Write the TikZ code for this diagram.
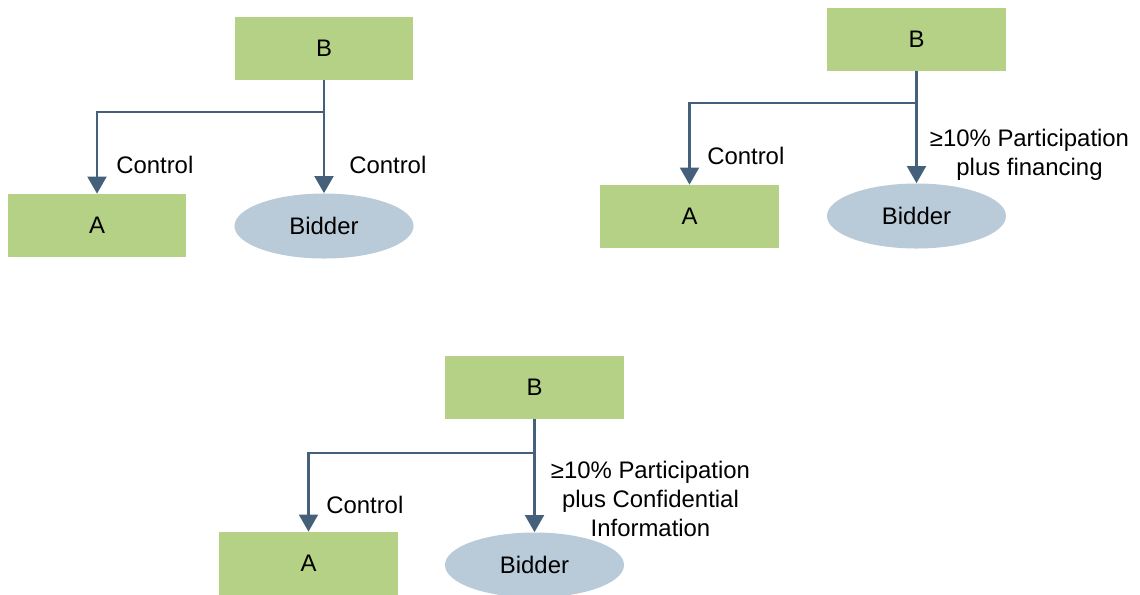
\documentclass[tikz,border=0pt]{standalone}
\usepackage{fontspec}
\setmainfont{Liberation Sans}
\usetikzlibrary{arrows.meta,shapes.geometric}

\definecolor{boxgreen}{HTML}{B5D186}
\definecolor{bidblue}{HTML}{B9CAD8}
\definecolor{linkblue}{HTML}{44607A}

\tikzset{
    firm/.style={fill=boxgreen, minimum width=4.45cm, minimum height=1.575cm, inner sep=0pt},
    bidder/.style={ellipse, fill=bidblue, minimum width=4.475cm, minimum height=1.625cm, inner sep=0pt},
    link/.style={draw=linkblue, line width=2.1pt},
    lbl/.style={inner sep=0pt, align=center}
}

\begin{document}
\begin{tikzpicture}[x=0.025cm, y=-0.025cm, >={Triangle[width=0.47cm,length=0.43cm]},
        every node/.style={font=\fontsize{17}{20.6}\selectfont}]
    \useasboundingbox (0,0) rectangle (1140,594);

    % Nodes
    \node[firm] at (324, 48.5) (b1) {B};
    \node[firm] at (97, 225.5) (a1) {A};
    \node[bidder] at (324, 226) (d1) {Bidder};
    \coordinate (j1) at (324, 112);

    \node[firm] at (916.5, 39.5) (b2) {B};
    \node[firm] at (689.5, 216.5) (a2) {A};
    \node[bidder] at (916.5, 216) (d2) {Bidder};
    \coordinate (j2) at (916.5, 103);

    \node[firm] at (534.5, 387.5) (b3) {B};
    \node[firm] at (308.5, 563.5) (a3) {A};
    \node[bidder] at (534.5, 565) (d3) {Bidder};
    \coordinate (j3) at (534.5, 453);

    % Edges
    \draw[link] (b1) -- (j1);
    \draw[link, ->] (j1) -| (a1);
    \draw[link, ->] (j1) -- (d1);

    \draw[link] (b2) -- (j2);
    \draw[link, ->] (j2) -| (a2);
    \draw[link, ->] (j2) -- (d2);

    \draw[link] (b3) -- (j3);
    \draw[link, ->] (j3) -| (a3);
    \draw[link, ->] (j3) -- (d3);

    % Labels
    \node[lbl, anchor=west] at (116, 165) (c1) {Control};
    \node[lbl, anchor=west] at (349, 165) (c2) {Control};
    \node[lbl, anchor=west] at (707, 156) (c3) {Control};
    \node[lbl] at (1029.5, 154.5) (p2) {≥10\% Participation\\plus financing};
    \node[lbl, anchor=west] at (326, 505) (c4) {Control};
    \node[lbl] at (650.5, 498.5) (p3) {≥10\% Participation\\plus Confidential\\Information};
\end{tikzpicture}
\end{document}
